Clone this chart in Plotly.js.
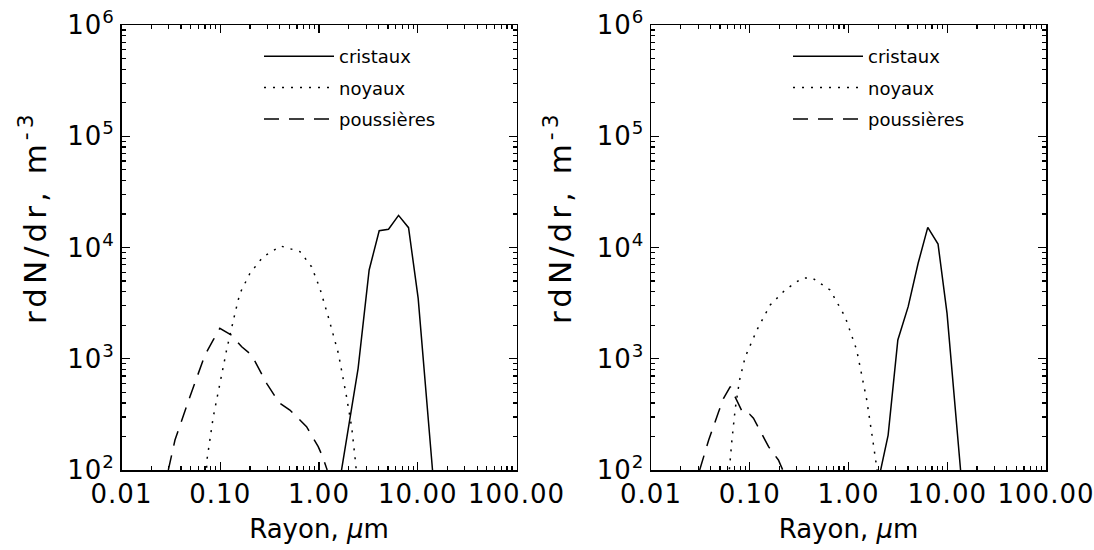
<!DOCTYPE html>
<html>
<head>
<meta charset="utf-8">
<script src="https://cdn.plot.ly/plotly-3.0.1.min.js"></script>
<style>
html,body{margin:0;padding:0;background:#fff;}
#chart{width:1094px;height:550px;}
#chart .annotation-text{letter-spacing:4px;}
#chart .xtick text, #chart .ytick text, #chart .x2tick text, #chart .y2tick text{letter-spacing:1px;}
</style>
</head>
<body>
<div id="chart"></div>
<script>
// ---- data ----
const seriesNames = ['cristaux', 'noyaux', 'poussières'];

// Left panel
const leftCristauxX = [1.58, 2.49, 3.22, 4.07, 5.06, 6.39, 8.07, 10.1, 15.8];
const leftCristauxY = [69, 820, 6280, 14150, 14600, 19450, 15070, 3490, 30];
const leftNoyauxX = [0.070, 0.0738, 0.085, 0.0993, 0.116, 0.141, 0.158, 0.2, 0.272, 0.411, 0.641, 0.841, 1.02, 1.24, 1.57, 1.90, 2.14, 2.36, 2.42];
const leftNoyauxY = [60, 128, 301, 601, 1200, 2560, 3870, 5860, 8270, 10300, 9190, 6720, 4300, 2390, 1120, 456, 245, 111, 80];
const leftPoussX = [0.0298, 0.0348, 0.0493, 0.070, 0.085, 0.099, 0.130, 0.165, 0.208, 0.295, 0.395, 0.507, 0.748, 0.982, 1.087, 1.21];
const leftPoussY = [100, 186, 456, 1080, 1475, 1880, 1630, 1280, 1080, 601, 403, 346, 245, 162, 132, 100];

// Right panel
const rightCristauxX = [2.0, 2.52, 3.16, 4.02, 5.07, 6.35, 8.07, 9.95, 15.8];
const rightCristauxY = [79, 206, 1475, 2940, 7210, 15170, 10740, 2560, 22];
const rightNoyauxX = [0.060, 0.0625, 0.066, 0.0714, 0.0789, 0.090, 0.118, 0.161, 0.228, 0.337, 0.425, 0.650, 0.923, 1.21, 1.53, 1.78, 1.95, 2.0];
const rightNoyauxY = [70, 115, 186, 359, 644, 1040, 1810, 3040, 4150, 5290, 5360, 4150, 2390, 1200, 426, 174, 107, 85];
const rightPoussX = [0.0311, 0.0384, 0.0484, 0.0543, 0.0635, 0.0853, 0.0995, 0.109, 0.155, 0.195, 0.216];
const rightPoussY = [100, 186, 334, 441, 561, 324, 318, 292, 162, 123, 100];

// Tick labels
const xTickVals = [0.01, 0.1, 1, 10, 100];
const xTickText = ['0.01', '0.10', '1.00', '10.00', '100.00'];
const yTickVals = [1e2, 1e3, 1e4, 1e5, 1e6];
const yTickText = ['10<sup>2</sup>', '10<sup>3</sup>', '10<sup>4</sup>', '10<sup>5</sup>', '10<sup>6</sup>'];
const minorDigits = [2, 3, 4, 5, 6, 7, 8, 9];

const xTitle = 'Rayon, <i>μ</i>m';
const yTitle = 'rdN/dr, m<sup>-3</sup>';

// ---- styles ----
const FONT = 'DejaVu Sans, sans-serif';
const dashStyles = ['solid', '2px,7px', '15px,10px'];

function allTicks(majors, labels) {
  const vals = [], text = [];
  majors.forEach((m, k) => {
    vals.push(m); text.push(labels[k]);
    if (k < majors.length - 1) minorDigits.forEach(d => { vals.push(m * d); text.push(''); });
  });
  return {vals, text};
}

function mk(x, y, i, xa, ya, leg) {
  return {
    x: x, y: y, type: 'scatter', mode: 'lines',
    name: seriesNames[i], legend: leg, legendgroup: leg + i,
    xaxis: xa, yaxis: ya,
    line: {color: 'black', width: 1.5, dash: dashStyles[i]}
  };
}
// empty helper traces so that the overlay (major-tick) axes get drawn
function holder(xa, ya) {
  return {x: [], y: [], type: 'scatter', mode: 'lines', xaxis: xa, yaxis: ya, showlegend: false, hoverinfo: 'skip'};
}

const traces = [
  mk(leftCristauxX, leftCristauxY, 0, 'x', 'y', 'legend'),
  mk(leftNoyauxX, leftNoyauxY, 1, 'x', 'y', 'legend'),
  mk(leftPoussX, leftPoussY, 2, 'x', 'y', 'legend'),
  mk(rightCristauxX, rightCristauxY, 0, 'x2', 'y2', 'legend2'),
  mk(rightNoyauxX, rightNoyauxY, 1, 'x2', 'y2', 'legend2'),
  mk(rightPoussX, rightPoussY, 2, 'x2', 'y2', 'legend2'),
  holder('x3', 'y3'),
  holder('x4', 'y4')
];

function mainAxis(majors, labels, range, domain, anchor) {
  const t = allTicks(majors, labels);
  return {
    type: 'log', range: range, domain: domain, anchor: anchor,
    showline: true, linecolor: 'black', linewidth: 1.5, mirror: 'allticks',
    tickmode: 'array', tickvals: t.vals, ticktext: t.text,
    ticks: 'inside', ticklen: 4, tickwidth: 1.2, tickcolor: 'black',
    showgrid: false, zeroline: false,
    tickfont: {family: FONT, size: 26, color: 'black'}
  };
}
function majorAxis(majors, range, overlaying, anchor) {
  return {
    type: 'log', range: range, overlaying: overlaying, anchor: anchor,
    showline: false, mirror: 'allticks',
    tickmode: 'array', tickvals: majors,
    ticks: 'inside', ticklen: 8, tickwidth: 1.4, tickcolor: 'black',
    showticklabels: false, showgrid: false, zeroline: false
  };
}

const ydom = [80 / 550, 525 / 550];
const xdomL = [121.5 / 1094, 516.5 / 1094];
const xdomR = [651 / 1094, 1046 / 1094];

function withTitle(ax) {
  ax.title = {text: xTitle, font: {family: FONT, size: 26, color: 'black'}, standoff: 12};
  return ax;
}
function legendCfg(xpx) {
  return {
    x: xpx / 1094, y: 1 - 38 / 550, xanchor: 'left', yanchor: 'top',
    bgcolor: 'rgba(0,0,0,0)', borderwidth: 0,
    font: {family: FONT, size: 18, color: 'black'},
    traceorder: 'grouped', tracegroupgap: 5, itemwidth: 70
  };
}
function yTitleAnn(xpx) {
  return {
    text: yTitle, xref: 'paper', yref: 'paper',
    x: xpx / 1094, y: 1 - 218 / 550, xanchor: 'center', yanchor: 'middle',
    textangle: -90, showarrow: false,
    font: {family: FONT, size: 31, color: 'black'}
  };
}

const layout = {
  width: 1094, height: 550,
  margin: {l: 0, r: 0, t: 0, b: 0},
  paper_bgcolor: 'white', plot_bgcolor: 'white',
  font: {family: FONT, color: 'black'},
  xaxis: withTitle(mainAxis(xTickVals, xTickText, [-2, 2], xdomL, 'y')),
  yaxis: mainAxis(yTickVals, yTickText, [2, 6], ydom, 'x'),
  xaxis2: withTitle(mainAxis(xTickVals, xTickText, [-2, 2], xdomR, 'y2')),
  yaxis2: mainAxis(yTickVals, yTickText, [2, 6], ydom, 'x2'),
  xaxis3: majorAxis(xTickVals, [-2, 2], 'x', 'y3'),
  yaxis3: majorAxis(yTickVals, [2, 6], 'y', 'x3'),
  xaxis4: majorAxis(xTickVals, [-2, 2], 'x2', 'y4'),
  yaxis4: majorAxis(yTickVals, [2, 6], 'y2', 'x4'),
  legend: legendCfg(259),
  legend2: legendCfg(788),
  annotations: [yTitleAnn(33), yTitleAnn(558)]
};

Plotly.newPlot('chart', traces, layout, {displayModeBar: false, staticPlot: true});
</script>
</body>
</html>
